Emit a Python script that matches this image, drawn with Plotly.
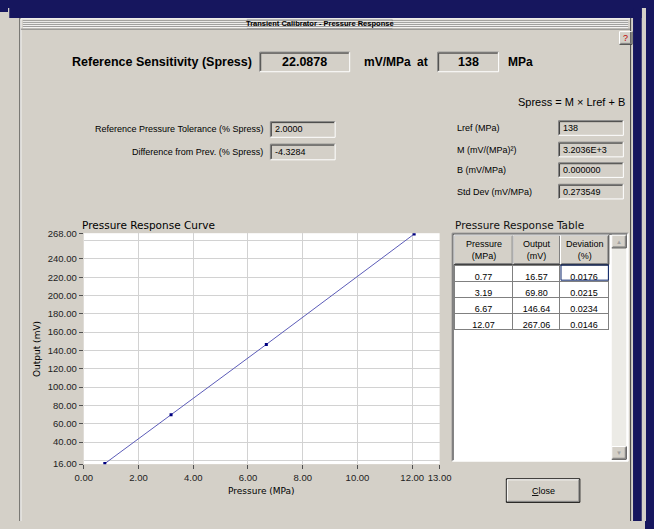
import plotly.graph_objects as go

# ---------------- data ----------------
pressure = [0.77, 3.19, 6.67, 12.07]
output = [16.57, 69.80, 146.64, 267.06]
deviation = [0.0176, 0.0215, 0.0234, 0.0146]
table_headers = ["Pressure<br>(MPa)", "Output<br>(mV)", "Deviation<br>(%)"]

x_ticks = [0, 2, 4, 6, 8, 10, 12, 13]
y_ticks = [16, 40, 60, 80, 100, 120, 140, 160, 180, 200, 220, 240, 268]

ref_sensitivity = "22.0878"
ref_pressure = "138"
tolerance = "2.0000"
diff_prev = "-4.3284"
fit_labels = ["Lref (MPa)", "M (mV/(MPa)²)", "B (mV/MPa)", "Std Dev (mV/MPa)"]
fit_values = ["138", "3.2036E+3", "0.000000", "0.273549"]

# ---------------- helpers ----------------
PAGE_W, PAGE_H = 654, 529
OFF = 8                      # default page margin around the figure
W, H = PAGE_W - 2 * OFF, PAGE_H - 2 * OFF
GRAY = "#d4d0c8"
NAVY = "#16165e"
shapes = []
annotations = []


def X(px):
    return (px - OFF) / W


def Y(py):
    return 1 - (py - OFF) / H


def rect(x0, y0, x1, y1, fill=None, line=None, lw=1, layer="below"):
    shapes.append(dict(type="rect", xref="paper", yref="paper",
                       x0=X(x0), x1=X(x1), y0=Y(y1), y1=Y(y0),
                       fillcolor=fill if fill else "rgba(0,0,0,0)",
                       line=dict(color=line if line else "rgba(0,0,0,0)", width=lw if line else 0),
                       layer=layer))


def seg(x0, y0, x1, y1, color, lw=1, layer="above"):
    shapes.append(dict(type="line", xref="paper", yref="paper",
                       x0=X(x0), x1=X(x1), y0=Y(y0), y1=Y(y1),
                       line=dict(color=color, width=lw), layer=layer))


def text(x, y, s, size=9, anchor="left", bold=False, color="#000000",
         family="Liberation Sans", angle=0):
    if bold:
        s = "<b>" + s + "</b>"
    annotations.append(dict(xref="paper", yref="paper", x=X(x), y=Y(y), text=s,
                            showarrow=False, xanchor=anchor, yanchor="middle",
                            textangle=angle,
                            font=dict(size=size, color=color, family=family)))


def sunken(x0, y0, x1, y1, fill=GRAY):
    rect(x0, y0, x1, y1, fill=fill)
    seg(x0, y0, x1, y0, "#808080")
    seg(x0, y0, x0, y1, "#808080")
    seg(x0 + 1, y0 + 1, x1 - 1, y0 + 1, "#404040")
    seg(x0 + 1, y0 + 1, x0 + 1, y1 - 1, "#404040")
    seg(x0, y1, x1, y1, "#ffffff")
    seg(x1, y0, x1, y1, "#ffffff")


def raised(x0, y0, x1, y1, fill=GRAY, layer="below"):
    if fill:
        rect(x0, y0, x1, y1, fill=fill, layer=layer)
    seg(x0, y0, x1, y0, "#ffffff")
    seg(x0, y0, x0, y1, "#ffffff")
    seg(x0, y1, x1, y1, "#404040")
    seg(x1, y0, x1, y1, "#404040")
    seg(x0 + 1, y1 - 1, x1 - 1, y1 - 1, "#808080")
    seg(x1 - 1, y0 + 1, x1 - 1, y1 - 1, "#808080")


# ---------------- window chrome ----------------
rect(0, 0, PAGE_W, 12, fill=NAVY)
rect(645, 0, PAGE_W, PAGE_H, fill=NAVY)
seg(11, 12, 11, 528, "#404040")
seg(11, 527.5, 643, 527.5, "#404040")
seg(642.5, 12, 642.5, 528, "#404040")
seg(12, 13, 642, 13, "#ffffff")
seg(12, 13, 12, 527, "#ffffff")

# title bar stripes
for yy in [15, 17, 19, 21]:
    seg(14, yy, 640, yy, "#8c8c8c")
    seg(14, yy + 1, 640, yy + 1, "#ffffff")
rect(246, 13.5, 396, 22.5, fill=GRAY, line="#808080", lw=1)
text(321, 18, "Transient Calibrator - Pressure Response", size=7.5, anchor="center", bold=True)
seg(12, 23.5, 642, 23.5, "#808080")

# help button
raised(631, 26, 644, 39)
text(637.5, 32.5, "?", size=9, anchor="center", color="#c00000")

# ---------------- header ----------------
text(253, 57, "Reference Sensitivity (Spress)", size=12.5, anchor="right", bold=True)
sunken(259, 47, 352, 67)
text(305.5, 57, ref_sensitivity, size=12.5, anchor="center", bold=True)
text(365, 57, "mV/MPa", size=12, bold=True)
text(420, 57, "at", size=12, bold=True)
sunken(443, 47, 506, 67)
text(474.5, 57, ref_pressure, size=12.5, anchor="center", bold=True)
text(514, 57, "MPa", size=12, bold=True)

text(639, 98, "Spress = M × Lref + B", size=11, anchor="right")

# left fields
text(264, 126, "Reference Pressure Tolerance (% Spress)", size=9, anchor="right")
sunken(270, 118, 337, 134)
text(273, 126, tolerance, size=9)
text(264, 149, "Difference from Prev. (% Spress)", size=9, anchor="right")
sunken(270, 141, 337, 157)
text(273, 149, diff_prev, size=9)

# right fields
fy = [(117, 132), (139, 154), (160, 175), (182, 197)]
for lab, val, (y0, y1) in zip(fit_labels, fit_values, fy):
    ym = (y0 + y1) / 2
    text(461, ym, lab, size=9)
    sunken(568, y0, 635, y1)
    text(570, ym, val, size=9)

# ---------------- plot ----------------
text(73, 224, "Pressure Response Curve", size=10.5, family="DejaVu Sans")
text(28, 350, "Output (mV)", size=9, anchor="center", family="DejaVu Sans", angle=-90)
text(261, 495, "Pressure (MPa)", size=9, anchor="center", family="DejaVu Sans")

fig = go.Figure()
fig.add_trace(go.Scatter(x=pressure, y=output, mode="lines+markers",
                         line=dict(color="#5c5cb8", width=1),
                         marker=dict(symbol="square", size=3, color="#000080"),
                         hoverinfo="skip", showlegend=False))

# ---------------- table ----------------
text(459, 224, "Pressure Response Table", size=10.5, family="DejaVu Sans", color="#111111")
sunken(458, 232, 640, 465, fill="#ffffff")
# scrollbar
rect(623, 234, 638, 463, fill="#ecebe6")
raised(623, 234, 638, 247)
raised(623, 450, 638, 463)
text(630.5, 240.5, "▲", size=6, anchor="center", color="#a0a0a0")
text(630.5, 456.5, "▼", size=6, anchor="center", color="#a0a0a0")

fig.add_trace(go.Table(
    domain=dict(x=[X(460), X(620)], y=[Y(460), Y(234)]),
    columnwidth=[61, 49, 50],
    header=dict(values=["", "", ""], height=30, fill_color=GRAY, line_color="#808080"),
    cells=dict(values=[[f"{v:.2f}" for v in pressure],
                       [f"{v:.2f}" for v in output],
                       [f"{v:.4f}" for v in deviation]],
               fill_color="#ffffff", line_color="#808080", align="center", height=16,
               font=dict(family="Liberation Sans", size=9, color="#000000"))))

# header bevels and titles drawn over the table header row
col_edges = [460, 521, 570, 620]
for i, h in enumerate(table_headers):
    raised(col_edges[i], 234, col_edges[i + 1], 264, fill=None)
    text((col_edges[i] + col_edges[i + 1]) / 2, 249, h, size=9, anchor="center")

# selected cell outline
rect(570.5, 264.5, 619.5, 280, line="#0a246a", lw=1, layer="above")

# close button
rect(514, 483, 590, 507, fill=GRAY, line="#000000", lw=1)
seg(515, 484, 589, 484, "#ffffff")
seg(515, 484, 515, 506, "#ffffff")
seg(515, 506, 589, 506, "#808080")
seg(589, 484, 589, 506, "#808080")
text(552, 495, "<u>C</u>lose", size=9, anchor="center")

tickfont = dict(family="Liberation Sans", size=9.5, color="#222222")
fig.update_layout(
    width=W, height=H,
    margin=dict(l=0, r=0, t=0, b=0),
    paper_bgcolor=GRAY,
    plot_bgcolor="#ffffff",
    showlegend=False,
    shapes=shapes,
    annotations=annotations,
    xaxis=dict(domain=[X(77), X(445)], range=[0, 13], tickvals=x_ticks,
               ticktext=[f"{v:.2f}" for v in x_ticks], tickangle=0,
               showgrid=True, gridcolor="#d2d2d2", gridwidth=1,
               ticks="outside", ticklen=4, tickcolor="#505050",
               tickfont=tickfont,
               zeroline=False, showline=False, fixedrange=True),
    yaxis=dict(domain=[Y(468), Y(232)], range=[16, 268], tickvals=y_ticks,
               ticktext=[f"{v:.2f}" for v in y_ticks],
               showgrid=True, gridcolor="#d2d2d2", gridwidth=1,
               minor=dict(tick0=0, dtick=20, showgrid=True, gridcolor="#d2d2d2", ticks=""),
               ticks="outside", ticklen=4, tickcolor="#505050",
               tickfont=tickfont,
               zeroline=False, showline=False, fixedrange=True),
)

fig.write_html(
    "out.html", config={"displayModeBar": False},
    post_script=("document.body.style.background="
                 "'linear-gradient(to left, #16165e 9px, transparent 9px),"
                 " linear-gradient(to bottom, #16165e 12px, #d4d0c8 12px)';"))
